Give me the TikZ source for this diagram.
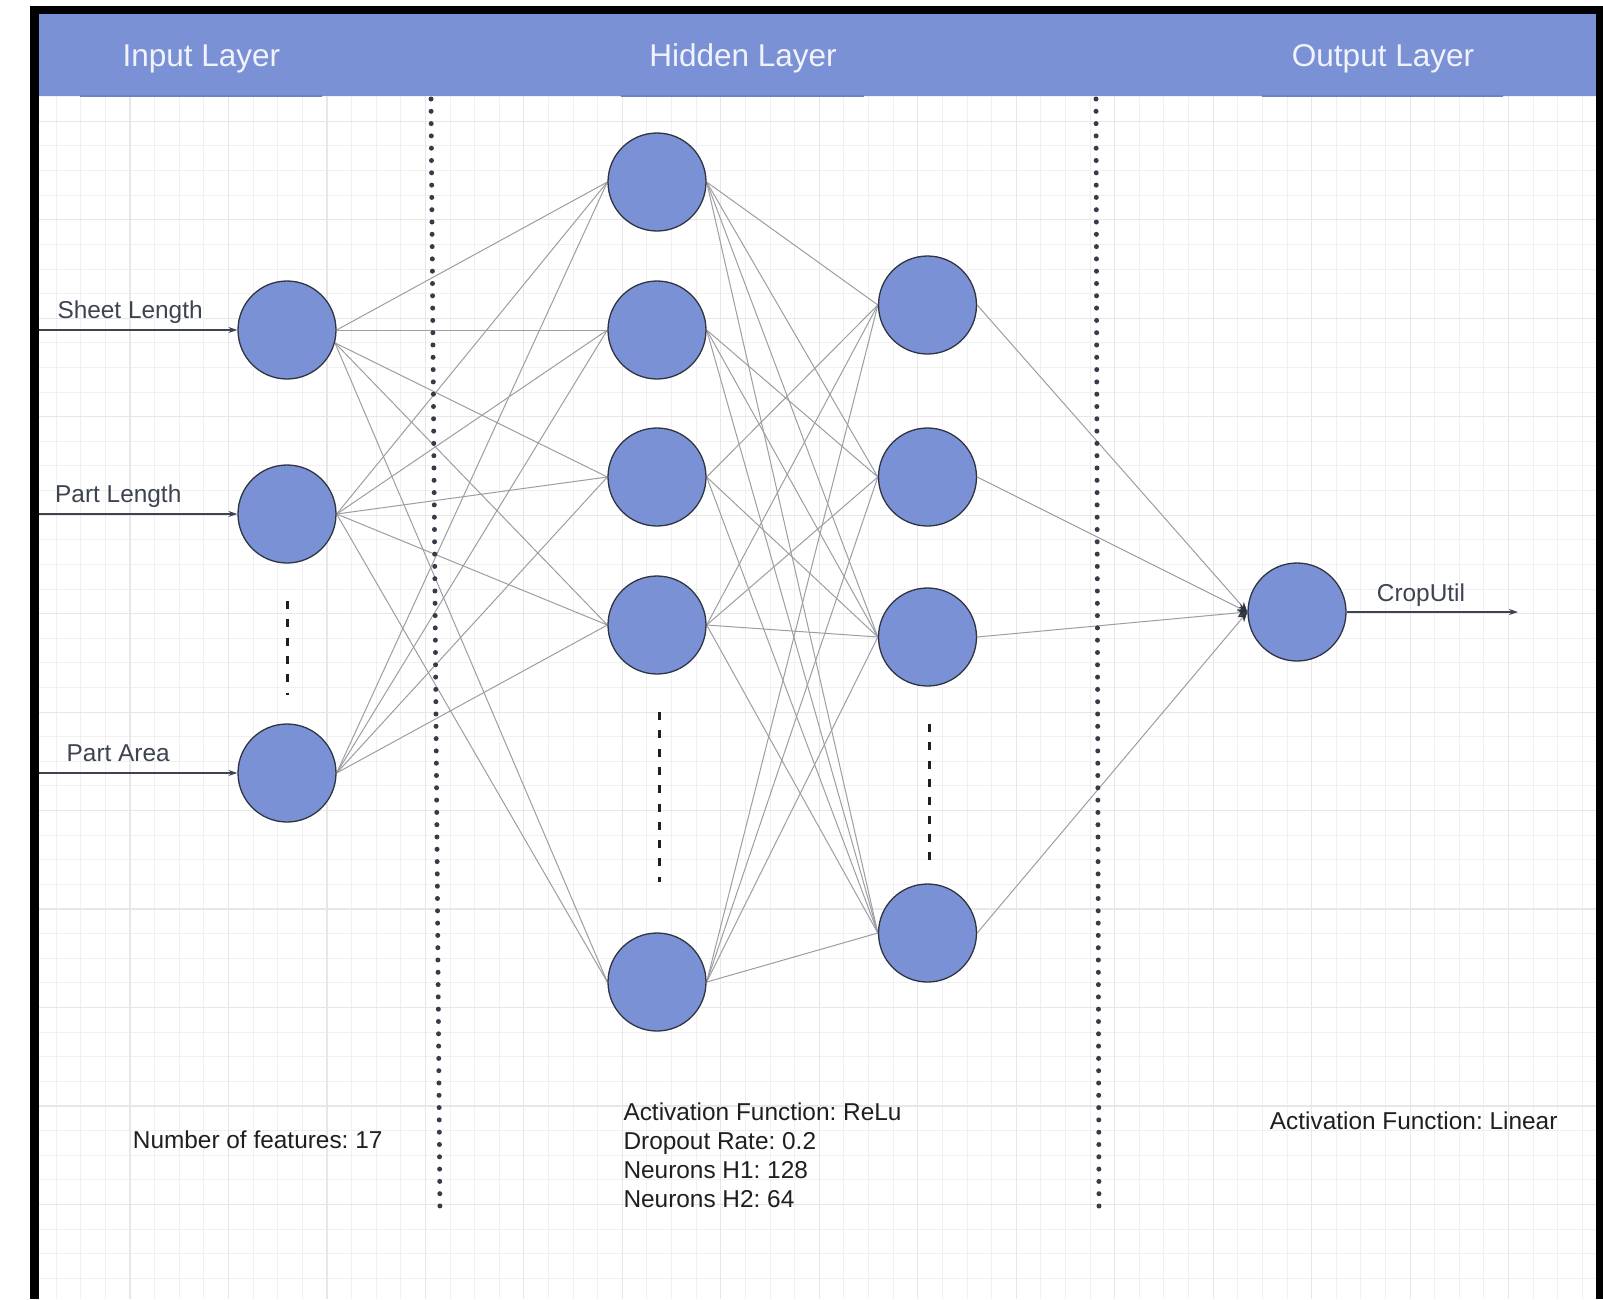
\documentclass[tikz,border=0pt]{standalone}
\usepackage{fontspec}
\setmainfont{Liberation Sans}
\usetikzlibrary{arrows.meta}
\frenchspacing

\definecolor{layerblue}{HTML}{7B91D6}
\definecolor{rim}{HTML}{2F3540}
\definecolor{wire}{HTML}{9C9EA3}
\definecolor{ink}{HTML}{1F1F1F}
\definecolor{labelink}{HTML}{3D4450}
\definecolor{dotink}{HTML}{353B47}
\definecolor{gridminor}{HTML}{F0F0F0}
\definecolor{gridmajor}{HTML}{E7E7E7}
\definecolor{headtext}{HTML}{F1F3FB}
\definecolor{headline}{HTML}{6C80C2}

\pgfdeclarelayer{back}
\pgfdeclarelayer{wires}
\pgfsetlayers{back,wires,main}

\begin{document}
\begin{tikzpicture}[x=1pt,y=-1pt,
  neuron/.style={circle, draw=rim, line width=1.3pt, fill=layerblue, minimum size=98pt, inner sep=0pt},
  link/.style={draw=wire, line width=1pt},
  into/.style={link, -{Stealth[length=10pt,width=8pt,color=rim]}},
  feed/.style={draw=labelink, line width=1.4pt, -{Stealth[length=9pt,width=6pt]}},
  sep/.style={draw=dotink, line width=5pt, line cap=round, dash pattern=on 0pt off 12.3pt},
  ellip/.style={draw=ink, line width=3pt, dash pattern=on 8pt off 10.3pt},
  title/.style={text=headtext, font=\fontsize{31.5}{38}\selectfont, inner sep=0pt, anchor=base},
  plain/.style={text=ink, font=\fontsize{24.4}{29.4}\selectfont, inner sep=0pt, anchor=base west},
  tag/.style={plain, text=labelink}
]
\useasboundingbox (0,0) rectangle (1603,1299);

\begin{pgfonlayer}{back}
  % page, frame and header band
  \fill[white] (0,0) rectangle (1603,1299);
  \fill[black] (30,6) rectangle (1603,1299);
  \fill[white] (39,14) rectangle (1596,1299);
  % drawing grid
  \begin{scope}
    \clip (39,96) rectangle (1596,1299);
    \foreach \k in {-4,...,61}
      \draw[gridminor, line width=1pt] ({130+\k*24.6175},96) -- ++(0,1203);
    \foreach \k in {-13,...,36}
      \draw[gridminor, line width=1pt] (39,{416.7+\k*24.6175}) -- (1596,{416.7+\k*24.6175});
    \foreach \k in {-1,...,15}
      \draw[gridmajor, line width=1.2pt] ({130+\k*98.47},96) -- ++(0,1203);
    \foreach \k in {-4,...,9}
      \draw[gridmajor, line width=1.2pt] (39,{416.7+\k*98.47}) -- (1596,{416.7+\k*98.47});
  \end{scope}
  \fill[layerblue] (39,14) rectangle (1596,96);
  \draw[headline, line width=1.2pt] (80,96) -- (322,96);
  \draw[headline, line width=1.2pt] (621,96) -- (864,96);
  \draw[headline, line width=1.2pt] (1262,96) -- (1503,96);
\end{pgfonlayer}

% layer titles
\node[title] (tin)  at (201.4,66.7) {Input Layer};
\node[title] (thid) at (743,66.7)   {Hidden Layer};
\node[title] (tout) at (1383,66.7)  {Output Layer};

% neurons
\node[neuron] (i1) at (287,330) {};
\node[neuron] (i2) at (287,514) {};
\node[neuron] (i3) at (287,773) {};

\node[neuron] (h1) at (657,182) {};
\node[neuron] (h2) at (657,330) {};
\node[neuron] (h3) at (657,477) {};
\node[neuron] (h4) at (657,625) {};
\node[neuron] (h5) at (657,982) {};

\node[neuron] (g1) at (927.5,305) {};
\node[neuron] (g2) at (927.5,477) {};
\node[neuron] (g3) at (927.5,637) {};
\node[neuron] (g4) at (927.5,933) {};

\node[neuron] (o) at (1297,612) {};

% weights between layers
\begin{pgfonlayer}{wires}
  % input layer to first hidden layer
  \foreach \b in {h1,h2}
    \draw[link] (i1.east) -- (\b.west);
  \foreach \b in {h3,h4,h5}
    \draw[link] (i1.-15) -- (\b.west);
  \foreach \b in {h1,h2,h3,h4,h5}
    \draw[link] (i2.east) -- (\b.west);
  \foreach \b in {h1,h2,h3,h4}
    \draw[link] (i3.east) -- (\b.west);
  % first hidden layer to second hidden layer
  \foreach \a/\b in {h1/g1,h1/g2,h1/g3,h1/g4,
                     h2/g2,h2/g3,h2/g4,
                     h3/g1,h3/g3,h3/g4,
                     h4/g1,h4/g2,h4/g3,h4/g4,
                     h5/g1,h5/g2,h5/g3,h5/g4}
    \draw[link] (\a.east) -- (\b.west);
  % second hidden layer to output
  \foreach \a in {g1,g2,g3,g4}
    \draw[into] (\a.east) -- (o.west);
\end{pgfonlayer}

% feature inputs and model output
\coordinate (s1) at (39,330);
\coordinate (s2) at (39,514);
\coordinate (s3) at (39,773);
\coordinate (yout) at (1518,612);
\draw[feed] (s1) -- (i1.west);
\draw[feed] (s2) -- (i2.west);
\draw[feed] (s3) -- (i3.west);
\draw[feed] (o.east) -- (yout);

\node[tag] (lsheet)    at (57.3,318)    {Sheet Length};
\node[tag] (lpartlen)  at (55,502.3)    {Part Length};
\node[tag] (lpartarea) at (66.5,761.6)  {Part Area};
\node[tag] (lcrop)     at (1376.7,601.7){CropUtil};

% omitted neurons
\coordinate (e1a) at (287,601);
\coordinate (e1b) at (287,695);
\coordinate (e2a) at (659,712);
\coordinate (e2b) at (659,882);
\coordinate (e3a) at (929,724);
\coordinate (e3b) at (929,867);
\draw[ellip] (e1a) -- (e1b);
\draw[ellip] (e2a) -- (e2b);
\draw[ellip] (e3a) -- (e3b);

% layer separators
\coordinate (d1a) at (431,99);
\coordinate (d1b) at (440,1215);
\coordinate (d2a) at (1096,99);
\coordinate (d2b) at (1099,1213);
\draw[sep] (d1a) -- (d1b);
\draw[sep] (d2a) -- (d2b);

% layer notes
\node[plain] (nfeat) at (132.7,1148.3) {Number of features: 17};
\node[plain] (hact)  at (623.3,1120)   {Activation Function: ReLu};
\node[plain] (hdrop) at (623.3,1149.3) {Dropout Rate: 0.2};
\node[plain] (hn1)   at (623.3,1178.6) {Neurons H1: 128};
\node[plain] (hn2)   at (623.3,1207.9) {Neurons H2: 64};
\node[plain] (oact)  at (1269.7,1129.6){Activation Function: Linear};
\end{tikzpicture}
\end{document}
